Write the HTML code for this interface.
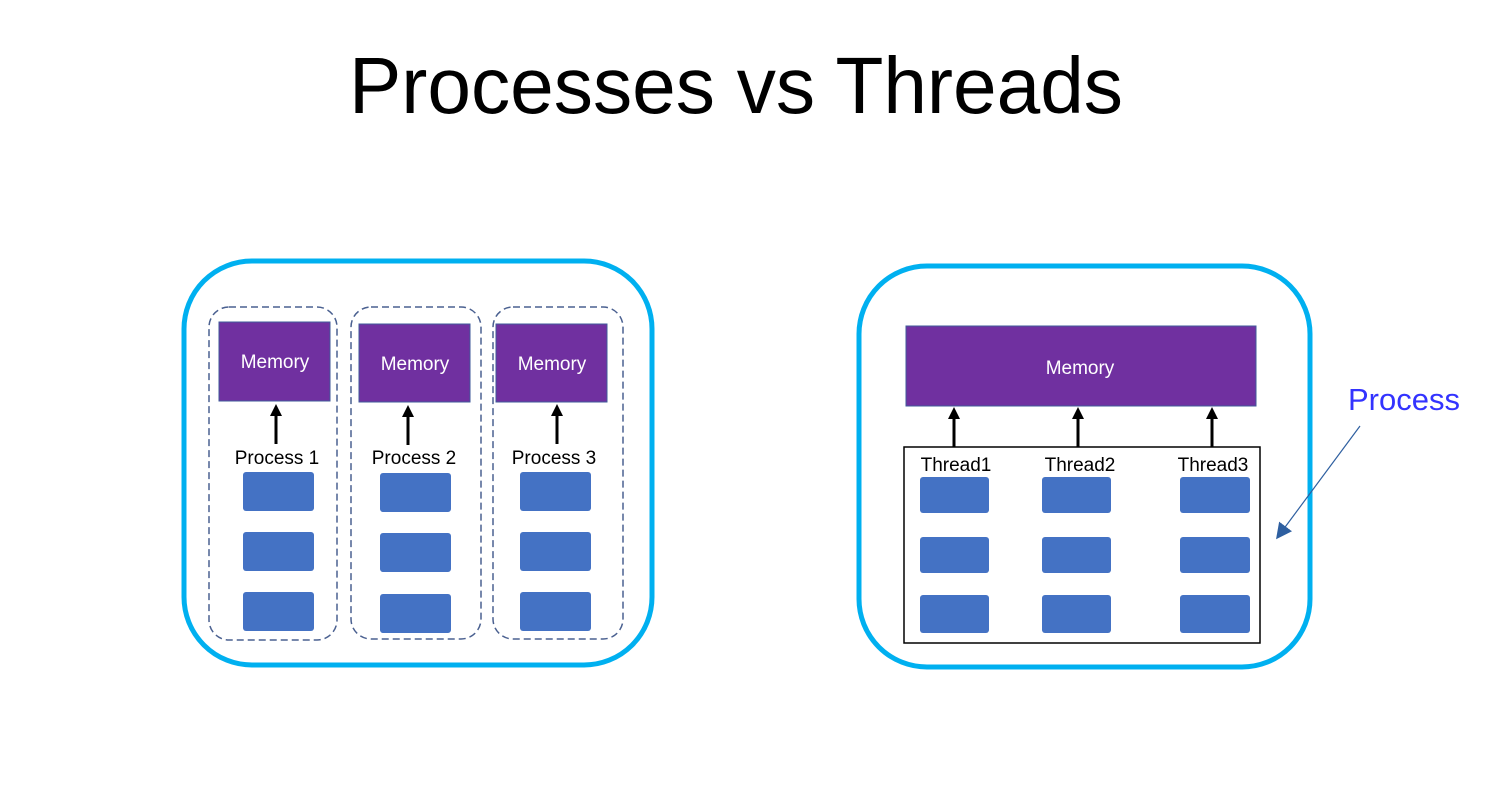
<!DOCTYPE html>
<html><head><style>html,body{margin:0;padding:0;background:#fff;}svg{display:block}</style></head>
<body>
<svg width="1509" height="802" viewBox="0 0 1509 802" xmlns="http://www.w3.org/2000/svg" font-family="Liberation Sans, sans-serif">
<defs>
<marker id="ah" viewBox="0 0 10 10" refX="5" refY="5" markerWidth="4" markerHeight="4" orient="auto"><path d="M0,0 L10,5 L0,10 z" fill="#000"/></marker>
<marker id="bh" viewBox="0 0 10 10" refX="9" refY="5" markerWidth="16" markerHeight="16" markerUnits="userSpaceOnUse" orient="auto"><path d="M0,0 L10,5 L0,10 z" fill="#2e5fa0"/></marker>
</defs>
<text x="736" y="113" font-size="80" text-anchor="middle" textLength="774" lengthAdjust="spacingAndGlyphs" fill="#000">Processes vs Threads</text>

<!-- left -->
<rect x="184" y="261" width="468" height="404" rx="68" fill="none" stroke="#00b0f0" stroke-width="5"/>
<g fill="none" stroke="#4a6090" stroke-width="1.5" stroke-dasharray="7,4">
<rect x="209" y="307" width="128" height="333" rx="20"/>
<rect x="351" y="307" width="130" height="332" rx="20"/>
<rect x="493" y="307" width="130" height="332" rx="20"/>
</g>
<g fill="#7030a0" stroke="#3f5a9a" stroke-width="1">
<rect x="219" y="322" width="111" height="79"/>
<rect x="359" y="324" width="111" height="78"/>
<rect x="496" y="324" width="111" height="78"/>
</g>
<g fill="#fff" font-size="19" text-anchor="middle">
<text x="275" y="368">Memory</text><text x="415" y="370">Memory</text><text x="552" y="370">Memory</text>
</g>
<g stroke="#000" stroke-width="3" marker-end="url(#ah)">
<line x1="276" y1="444" x2="276" y2="410"/><line x1="408" y1="445" x2="408" y2="411"/><line x1="557" y1="444" x2="557" y2="410"/>
</g>
<g fill="#000" font-size="19" text-anchor="middle">
<text x="277" y="464">Process 1</text><text x="414" y="464">Process 2</text><text x="554" y="464">Process 3</text>
</g>
<g fill="#4472c4">
<rect x="243" y="472" width="71" height="39" rx="3"/><rect x="243" y="532" width="71" height="39" rx="3"/><rect x="243" y="592" width="71" height="39" rx="3"/>
<rect x="380" y="473" width="71" height="39" rx="3"/><rect x="380" y="533" width="71" height="39" rx="3"/><rect x="380" y="594" width="71" height="39" rx="3"/>
<rect x="520" y="472" width="71" height="39" rx="3"/><rect x="520" y="532" width="71" height="39" rx="3"/><rect x="520" y="592" width="71" height="39" rx="3"/>
</g>

<!-- right -->
<rect x="859" y="266" width="451" height="401" rx="68" fill="none" stroke="#00b0f0" stroke-width="5"/>
<rect x="906" y="326" width="350" height="80" fill="#7030a0" stroke="#3f5a9a" stroke-width="1"/>
<text x="1080" y="374" fill="#fff" font-size="19" text-anchor="middle">Memory</text>
<rect x="904" y="447" width="356" height="196" fill="none" stroke="#000" stroke-width="1.5"/>
<g stroke="#000" stroke-width="3" marker-end="url(#ah)">
<line x1="954" y1="447" x2="954" y2="413"/><line x1="1078" y1="447" x2="1078" y2="413"/><line x1="1212" y1="447" x2="1212" y2="413"/>
</g>
<g fill="#000" font-size="19" text-anchor="middle">
<text x="956" y="471">Thread1</text><text x="1080" y="471">Thread2</text><text x="1213" y="471">Thread3</text>
</g>
<g fill="#4472c4">
<rect x="920" y="477" width="69" height="36" rx="3"/><rect x="920" y="537" width="69" height="36" rx="3"/><rect x="920" y="595" width="69" height="38" rx="3"/>
<rect x="1042" y="477" width="69" height="36" rx="3"/><rect x="1042" y="537" width="69" height="36" rx="3"/><rect x="1042" y="595" width="69" height="38" rx="3"/>
<rect x="1180" y="477" width="70" height="36" rx="3"/><rect x="1180" y="537" width="70" height="36" rx="3"/><rect x="1180" y="595" width="70" height="38" rx="3"/>
</g>
<text x="1404" y="410" fill="#3333ff" font-size="31" text-anchor="middle">Process</text>
<line x1="1360" y1="426" x2="1277" y2="538" stroke="#2e5fa0" stroke-width="1.2" marker-end="url(#bh)"/>
</svg>
</body></html>
